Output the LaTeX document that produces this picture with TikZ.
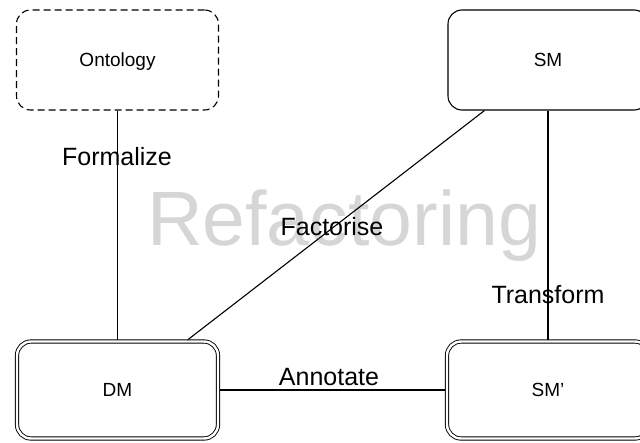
\documentclass[tikz,border=0pt]{standalone}
\usepackage{fontspec}
\setmainfont{Liberation Sans}
\usetikzlibrary{calc}
\definecolor{wm}{RGB}{214,214,214}
\tikzset{
  box/.style={draw=black, line width=1.1pt, rounded corners=14pt, inner sep=0pt,
    font=\fontsize{19}{22}\selectfont, text height=13.5pt, text depth=0pt},
  dashedbox/.style={box, dash pattern=on 7pt off 4pt},
  dblbox/.style={box, double=white, double distance=2.4pt, line width=0.9pt, outer sep=1.65pt},
  lbl/.style={font=\fontsize{25}{30}\selectfont, anchor=base, inner sep=0pt},
  conn/.style={line width=1.1pt}
}
\begin{document}
\begin{tikzpicture}[x=1pt, y=-1pt]
  \useasboundingbox (0,0) rectangle (640,442);
  \clip (0,0) rectangle (640,442);
  \node[lbl, font=\fontsize{77}{80}\selectfont, text=wm] (wmark) at (344,245) {Refactoring};
  \node[dashedbox, minimum width=202pt, minimum height=100pt] (onto) at (117.5,60) {Ontology};
  \node[box, minimum width=200pt, minimum height=100pt] (sm) at (548,60) {SM};
  \node[dblbox, minimum width=201pt, minimum height=97pt] (dm) at (117.5,390) {DM};
  \node[dblbox, minimum width=202pt, minimum height=97pt] (smp) at (548,390) {SM’};
  \draw[conn] (onto.south) -- (dm.north);
  \draw[conn] (sm.south) -- (smp.north);
  \draw[conn] (dm.east) -- (smp.west);
  \draw[conn] ($(sm.south west)+(37,0)$) -- ($(dm.north east)+(-32,0)$);
  \node[lbl] (formalize) at (117,165) {Formalize};
  \node[lbl] (factorise) at (332,235) {Factorise};
  \node[lbl] (transform) at (548,303) {Transform};
  \node[lbl] (annotate) at (329,385) {Annotate};
\end{tikzpicture}
\end{document}
